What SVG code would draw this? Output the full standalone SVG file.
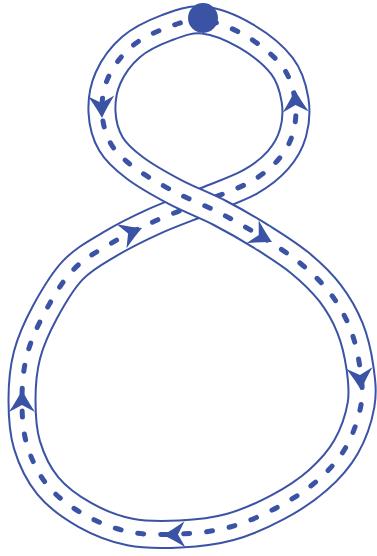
<svg xmlns="http://www.w3.org/2000/svg" width="377" height="556" viewBox="0 0 377 556">
<style>
.band{fill:none;stroke:#3a53a4;stroke-width:29;stroke-linecap:butt;stroke-linejoin:round}
.road{fill:none;stroke:#ffffff;stroke-width:25;stroke-linecap:butt;stroke-linejoin:round}
.dash{fill:none;stroke:#3a53a4;stroke-width:5;stroke-linecap:round;stroke-dasharray:6 17}
.arrow{fill:#3a53a4;stroke:none}
</style>
<defs>
<path id="pA" d="M203,20 C189.67,18.67 178,23.5 166,28 C154,32.5 140.67,38.67 131,47 C121.33,55.33 112.83,67.17 108,78 C103.17,88.83 101.5,101 102,112 C102.5,123 105.5,134.67 111,144 C116.5,153.33 124.33,160 135,168 C145.67,176 160.83,184.5 175,192 C189.17,199.5 205.5,205.5 220,213 C234.5,220.5 248.67,228.67 262,237"/>
<path id="pAw" d="M206,20.3 L203,20 C189.67,18.67 178,23.5 166,28 C154,32.5 140.67,38.67 131,47 C121.33,55.33 112.83,67.17 108,78 C103.17,88.83 101.5,101 102,112 C102.5,123 105.5,134.67 111,144 C116.5,153.33 124.33,160 135,168 C145.67,176 160.83,184.5 175,192 C189.17,199.5 205.5,205.5 220,213 C234.5,220.5 248.67,228.67 262,237 L264.5,238.6"/>
<path id="pB" d="M262,237 C275.33,245.33 288.67,253.67 300,263 C311.33,272.33 321.67,282.17 330,293 C338.33,303.83 345,315.5 350,328 C355,340.5 358.17,355.17 360,368 C361.83,380.83 363.33,391.83 361,405 C358.67,418.17 353.17,434.5 346,447 C338.83,459.5 329.33,470 318,480 C306.67,490 292.67,499.17 278,507 C263.33,514.83 246.33,522.5 230,527 C213.67,531.5 196.67,533.17 180,534 C163.33,534.83 145.83,535.17 130,532 C114.17,528.83 98.67,522.67 85,515 C71.33,507.33 57.67,497.67 48,486 C38.33,474.33 31.33,459.33 27,445 C22.67,430.67 22,415 22,400 C22,385 23.17,369.67 27,355 C30.83,340.33 37.33,326.17 45,312 C52.67,297.83 62.17,281.33 73,270 C83.83,258.67 96.33,252.17 110,244 C123.67,235.83 139.17,228.17 155,221 C170.83,213.83 189.17,207.5 205,201 C220.83,194.5 237.83,188.83 250,182 C262.17,175.17 270.83,168.17 278,160 C285.17,151.83 290.17,143 293,133 C295.83,123 296.83,111.17 295,100 C293.17,88.83 290.17,76.67 282,66 C273.83,55.33 259.17,43.67 246,36 C232.83,28.33 216.33,21.33 203,20"/>
<path id="arrowhead" d="M0,0 Q-9,-4.5 -22,-13 L-15,0 L-22,13 Q-9,4.5 0,0 Z"/>
</defs>
<g id="connectors">
<g id="track-under">
<use href="#pB" class="band"/>
<use href="#pB" class="road"/>
<use href="#pB" class="dash"/>
</g>
<g id="track-over">
<use href="#pA" class="band"/>
<use href="#pAw" class="road"/>
<use href="#pA" class="dash"/>
</g>
<g id="arrows">
<use href="#arrowhead" class="arrow" transform="translate(102,118) rotate(88)"/>
<use href="#arrowhead" class="arrow" transform="translate(272,242) rotate(28)"/>
<use href="#arrowhead" class="arrow" transform="translate(361,390) rotate(86)"/>
<use href="#arrowhead" class="arrow" transform="translate(163,535) rotate(178)"/>
<use href="#arrowhead" class="arrow" transform="translate(22,390) rotate(-90)"/>
<use href="#arrowhead" class="arrow" transform="translate(142,228) rotate(-22)"/>
<use href="#arrowhead" class="arrow" transform="translate(295,90) rotate(-92)"/>
</g>
</g>
<g id="start-dot">
<circle cx="203" cy="18" r="15" fill="#3a53a4"/>
</g>
</svg>
